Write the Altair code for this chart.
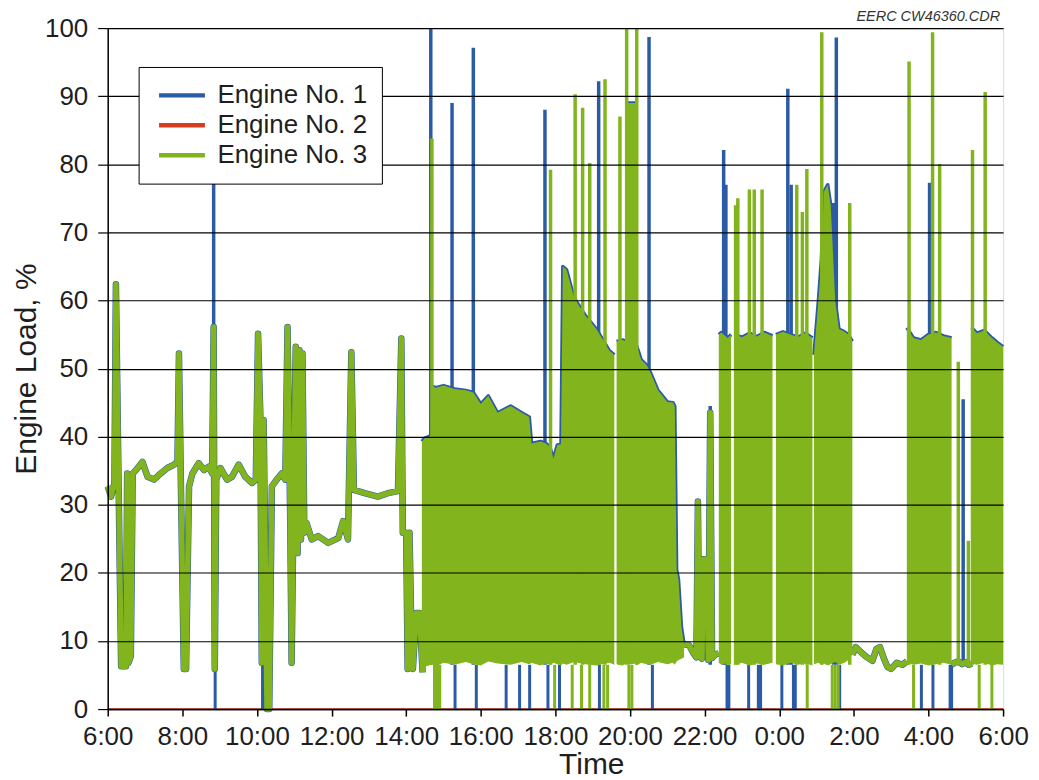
import altair as alt
import pandas as pd

BLUE = "#2c5ba6"
RED = "#d43d1f"
GREEN = "#82b41d"
FONT = "Liberation Sans"
INK = "#1e1e1e"

ENGINES = ["Engine No. 1", "Engine No. 2", "Engine No. 3"]

# time = hours after midnight of the first day (30 = 6:00 next morning)
x_ticks = [6, 8, 10, 12, 14, 16, 18, 20, 22, 24, 26, 28, 30]
y_ticks = [0, 10, 20, 30, 40, 50, 60, 70, 80, 90, 100]

# ---- traced (non-dense) stretches; Engines 1 and 3 coincide here ----
trace_a_t = [6.0, 6.09, 6.18, 6.22, 6.29, 6.36, 6.49, 6.52, 6.56, 6.62, 6.67, 6.76, 6.93,
             7.07, 7.24, 7.42, 7.6, 7.78, 7.87, 7.91, 7.96, 8.04, 8.1, 8.18, 8.27, 8.44,
             8.58, 8.71, 8.8, 8.84, 8.87, 8.91, 9.02, 9.2, 9.33, 9.51, 9.69, 9.87, 9.97,
             10.03, 10.09, 10.13, 10.18, 10.27, 10.33, 10.4, 10.53, 10.67, 10.76, 10.82,
             10.89, 10.93, 10.98, 11.04, 11.09, 11.14, 11.18, 11.22, 11.27, 11.33, 11.47,
             11.64, 11.91, 12.18, 12.31, 12.44, 12.53, 12.6, 12.89, 13.24, 13.51, 13.78,
             13.87, 13.91, 14.0, 14.04, 14.09, 14.13, 14.18, 14.27, 14.36, 14.44]
trace_a_v = [32.7, 31.2, 33.2, 62.4, 33.7, 6.3, 6.3, 34.6, 6.8, 7.8, 34.6, 35.1, 36.3,
             34.1, 33.7, 34.6, 35.4, 35.9, 36.3, 52.2, 33.7, 5.9, 5.9, 32.7, 34.6, 36.1,
             35.1, 35.6, 34.6, 56.1, 5.9, 33.7, 35.4, 33.7, 34.1, 35.9, 34.1, 33.2, 33.7,
             55.1, 43.4, 6.8, 42.4, 0.0, 0.0, 32.7, 33.7, 34.6, 33.7, 56.1,
             28.8, 6.8, 28.8, 53.2, 22.9, 52.7, 24.9, 52.2, 25.9, 27.3, 24.9,
             25.4, 24.4, 25.1, 27.6, 24.9, 52.4, 32.2, 31.7, 31.2, 31.7, 32.0,
             54.4, 25.9, 25.9, 5.9, 25.9, 14.1, 5.9, 14.1, 14.1, 5.4]

trace_b_t = [21.45, 21.58, 21.7, 21.78, 21.82, 21.86, 21.93, 21.96, 22.0, 22.06, 22.1,
             22.15, 22.2, 22.28, 22.38]
trace_b_v = [9.5, 9.4, 8.2, 7.6, 30.5, 7.8, 7.4, 22.0, 21.7, 22.0, 7.2, 43.5, 7.5, 8.0, 8.2]

trace_c_t = [25.96, 26.05, 26.2, 26.35, 26.5, 26.6, 26.7, 26.8, 26.9, 27.0, 27.15, 27.3, 27.42]
trace_c_v = [8.0, 9.1, 8.3, 7.6, 7.1, 8.8, 9.1, 7.5, 6.2, 5.9, 6.8, 6.5, 7.0]

trace_d_t = [28.62, 28.7, 28.8, 28.9, 29.0, 29.08, 29.16]
trace_d_v = [6.5, 6.8, 7.0, 6.6, 6.9, 6.5, 6.7]

engine2_t = [6, 30]
engine2_v = [0, 0]

# ---- dense (rapidly cycling) stretches: lower and upper envelope ----
band1_t = [14.42, 14.5, 14.6, 14.66, 14.7, 14.8, 15.0, 15.3, 15.6, 15.8, 16.0, 16.2, 16.45,
           16.8, 17.1, 17.3, 17.36, 17.6, 17.75, 17.85, 17.95, 18.05, 18.15, 18.2, 18.3,
           18.5, 18.8, 19.1, 19.45, 19.58]
band1_hi = [39.3, 39.8, 40.0, 40.2, 47.4, 47.2, 47.5, 47.0, 46.8, 46.5, 44.8, 46.0, 43.5,
            44.5, 43.5, 42.9, 39.0, 39.3, 39.0, 38.5, 36.8, 38.8, 38.9, 65.0, 64.5,
            60.4, 57.8, 55.8, 52.6, 52.0]
band1_lo = [5.8, 6.2, 6.4, 6.5, 6.6, 6.3, 6.8, 6.5, 6.9, 6.6, 6.4, 7.0, 6.7,
            6.5, 6.9, 6.6, 6.8, 6.4, 6.7, 6.5, 6.8, 6.6, 6.4, 6.7, 6.5,
            6.9, 6.6, 6.4, 6.8, 6.5]

band2_t = [19.64, 19.8, 19.93, 19.94, 20.16, 20.17, 20.3, 20.45, 20.55, 20.75, 21.0, 21.15,
           21.2, 21.25, 21.3, 21.38, 21.45]
band2_hi = [54.0, 54.2, 53.9, 89.0, 89.0, 53.5, 51.3, 50.5, 49.4, 46.8, 45.1, 45.0,
            44.5, 20.5, 19.0, 12.0, 9.5]
band2_lo = [6.6, 6.4, 6.8, 6.5, 6.7, 6.4, 6.8, 6.6, 6.5, 6.9, 6.6, 6.8,
            6.5, 7.0, 7.2, 7.4, 7.6]

band3_t = [22.38, 22.45, 22.55, 22.62, 22.71]
band3_hi = [55.0, 55.3, 54.8, 54.5, 55.0]
band3_lo = [6.8, 6.5, 6.7, 6.4, 6.6]

band4_t = [22.8, 23.0, 23.2, 23.4, 23.6, 23.82]
band4_hi = [55.0, 54.6, 55.2, 54.7, 55.3, 54.8]
band4_lo = [6.5, 6.8, 6.4, 6.7, 6.5, 6.8]

band5_t = [23.91, 24.1, 24.3, 24.5, 24.7, 24.89]
band5_hi = [55.0, 55.4, 55.0, 54.6, 55.2, 54.5]
band5_lo = [6.6, 6.4, 6.8, 6.5, 6.7, 6.4]

band6_t = [24.93, 25.05, 25.13, 25.2, 25.3, 25.38, 25.5, 25.6, 25.75, 25.85, 25.96]
band6_hi = [52.0, 60.0, 66.0, 76.0, 77.0, 74.0, 60.0, 55.8, 55.4, 55.0, 54.0]
band6_lo = [6.6, 6.8, 6.5, 6.7, 6.4, 6.6, 6.9, 6.5, 6.8, 7.2, 8.0]

band7_t = [27.42, 27.6, 27.8, 28.0, 28.2, 28.4, 28.62]
band7_hi = [56.0, 54.5, 54.2, 55.0, 55.3, 54.8, 54.5]
band7_lo = [6.8, 6.5, 6.7, 6.4, 6.6, 6.8, 6.5]

band8_t = [29.16, 29.3, 29.5, 29.7, 29.85, 30.0]
band8_hi = [56.0, 55.2, 55.6, 54.5, 53.8, 53.2]
band8_lo = [6.7, 6.5, 6.8, 6.4, 6.6, 6.5]

# ---- isolated peaks (from the cycling floor up to the peak) ----
spike1_t = [8.84, 14.66, 15.23, 15.8, 17.72, 19.16, 20.51, 22.15, 22.51, 22.57, 24.23,
            24.32, 25.46, 25.53, 28.03, 28.93]
spike1_top = [94.0, 100.0, 89.0, 97.1, 88.0, 92.2, 98.7, 44.5, 82.1, 77.0, 91.1,
              77.0, 74.3, 98.6, 77.3, 45.5]
spike3_t = [14.69, 17.87, 18.53, 18.73, 18.92, 19.33, 19.73, 19.91, 20.18, 22.83, 22.89,
            23.2, 23.33, 23.54, 24.47, 24.62, 24.74, 25.14, 25.89, 27.48, 28.11, 28.3,
            28.8, 29.07, 29.18, 29.52]
spike3_top = [83.8, 79.2, 90.3, 88.3, 80.2, 92.5, 87.0, 100.0, 100.0, 74.0, 75.0,
              76.3, 76.3, 76.3, 77.0, 73.0, 79.3, 99.4, 74.3, 95.1, 99.4, 80.0,
              51.0, 24.7, 82.1, 90.6]
SPIKE_FLOOR = 6.5

# ---- drop-outs to zero load ----
drop1_t = [8.88, 10.15, 14.8, 15.31, 15.88, 16.68, 17.04, 17.31, 17.8, 18.11, 19.18, 20.6,
           22.6, 22.65, 23.18, 23.44, 23.5, 24.07, 24.38, 24.43, 25.62, 27.81, 28.12,
           28.58, 28.62]
drop3_t = [14.76, 14.84, 14.9, 17.98, 18.45, 18.7, 18.92, 19.3, 19.4, 19.97, 20.05,
           24.75, 25.42, 25.5, 25.58, 27.6, 29.36, 29.7]

# ---------------- build tables ----------------
def seg_frame(parts):
    rows = []
    for sid, ts, vs in parts:
        for t, v in zip(ts, vs):
            rows.append({"seg": sid, "t": t, "v": v})
    return pd.DataFrame(rows)

trace = seg_frame([(1, trace_a_t, trace_a_v), (2, trace_b_t, trace_b_v),
                   (3, trace_c_t, trace_c_v), (4, trace_d_t, trace_d_v)])
tr1 = trace.assign(engine=ENGINES[0])
tr3 = trace.assign(engine=ENGINES[2])
tr2 = pd.DataFrame({"seg": 0, "t": engine2_t, "v": engine2_v, "engine": ENGINES[1]})

band_rows = []
for sid, ts, lo, hi in [(1, band1_t, band1_lo, band1_hi), (2, band2_t, band2_lo, band2_hi),
                        (3, band3_t, band3_lo, band3_hi), (4, band4_t, band4_lo, band4_hi),
                        (5, band5_t, band5_lo, band5_hi), (6, band6_t, band6_lo, band6_hi),
                        (7, band7_t, band7_lo, band7_hi), (8, band8_t, band8_lo, band8_hi)]:
    for t, l, h in zip(ts, lo, hi):
        band_rows.append({"seg": sid, "t": t, "lo": l, "v": h})
bands = pd.DataFrame(band_rows)

sp1 = pd.DataFrame({"t": spike1_t, "v": spike1_top})
sp3 = pd.DataFrame({"t": spike3_t, "v": spike3_top})
dr1 = pd.DataFrame({"t": drop1_t})
dr3 = pd.DataFrame({"t": drop3_t})

# ---------------- encodings ----------------
xscale = alt.Scale(domain=[6, 30], nice=False, zero=False)
yscale = alt.Scale(domain=[0, 100], nice=False, zero=True)

xaxis = alt.Axis(values=x_ticks, labelExpr="(datum.value % 24) + ':00'", title="Time",
                 grid=False, domainColor="black", domainWidth=1.5, tickColor="black",
                 tickSize=7, tickWidth=1.5, labelFont=FONT, labelFontSize=26,
                 labelColor=INK, labelPadding=8, labelFlush=False, labelOverlap=False,
                 titleFont=FONT, titleFontSize=30, titleFontWeight="normal",
                 titleColor=INK, titlePadding=0, titleX=485, zindex=1)
yaxis = alt.Axis(values=y_ticks, title="Engine Load, %", grid=True, gridColor="black",
                 gridWidth=1.2, gridOpacity=1, domainColor="black", domainWidth=1.5,
                 tickColor="black", tickSize=10, tickWidth=1.2, labelFont=FONT,
                 labelFontSize=26, labelColor=INK, labelPadding=10, labelFlush=False,
                 titleFont=FONT, titleFontSize=30, titleFontWeight="normal",
                 titleColor=INK, titlePadding=3, zindex=1)

X = alt.X("t:Q", scale=xscale, axis=xaxis)
Y = alt.Y("v:Q", scale=yscale, axis=yaxis)

color = alt.Color("engine:N", scale=alt.Scale(domain=ENGINES, range=[BLUE, RED, GREEN]),
                  legend=alt.Legend(title=None, orient="none", legendX=31, legendY=39,
                                    symbolType="stroke", symbolSize=2116,
                                    symbolStrokeWidth=4.5, symbolOffset=4, clipHeight=29,
                                    labelFont=FONT, labelFontSize=26, labelColor=INK,
                                    labelOffset=10, fillColor="white", strokeColor="black",
                                    padding=14, rowPadding=1, zindex=2))

line_e2 = alt.Chart(tr2).mark_line(strokeWidth=1.5).encode(x=X, y=Y, color=color)
drops_b = alt.Chart(dr1).mark_rule(color=BLUE, strokeWidth=3, strokeCap="butt").encode(
    x=X, y=alt.Y(datum=0, scale=yscale, axis=yaxis), y2=alt.Y2(datum=SPIKE_FLOOR))
line_e1 = alt.Chart(tr1).mark_line(strokeWidth=6.5, strokeJoin="round").encode(
    x=X, y=Y, color=color, detail="seg:N")
band_top_b = alt.Chart(bands).mark_line(color=BLUE, strokeWidth=3.5, strokeJoin="round").encode(
    x=X, y=Y, detail="seg:N")
spikes_b = alt.Chart(sp1).mark_rule(color=BLUE, strokeWidth=3.5, strokeCap="butt").encode(
    x=X, y=Y, y2=alt.Y2(datum=SPIKE_FLOOR))
band_g = alt.Chart(bands).mark_area(color=GREEN, opacity=1).encode(
    x=X, y=Y, y2=alt.Y2("lo:Q"), detail="seg:N")
line_e3 = alt.Chart(tr3).mark_line(strokeWidth=5.5, strokeJoin="round").encode(
    x=X, y=Y, color=color, detail="seg:N")
spikes_g = alt.Chart(sp3).mark_rule(color=GREEN, strokeWidth=3.5, strokeCap="butt").encode(
    x=X, y=Y, y2=alt.Y2(datum=SPIKE_FLOOR))
drops_g = alt.Chart(dr3).mark_rule(color=GREEN, strokeWidth=3, strokeCap="butt").encode(
    x=X, y=alt.Y(datum=0, scale=yscale, axis=yaxis), y2=alt.Y2(datum=SPIKE_FLOOR))

chart = alt.layer(
    line_e2, drops_b, line_e1, band_top_b, spikes_b, band_g, line_e3, spikes_g, drops_g
).properties(
    width=898, height=683,
    title=alt.TitleParams("EERC CW46360.CDR", anchor="end", frame="group", fontSize=14.5,
                          fontStyle="italic", fontWeight="normal", font=FONT,
                          color="#333333", offset=5, dx=-3, dy=14),
    autosize=alt.AutoSizeParams(type="none"),
    padding={"left": 100, "top": 19, "right": 28, "bottom": 69},
).configure_view(stroke="black", strokeWidth=1.5).configure(background="white")

chart.save("out.html", embed_options={"renderer": "svg", "actions": False})
